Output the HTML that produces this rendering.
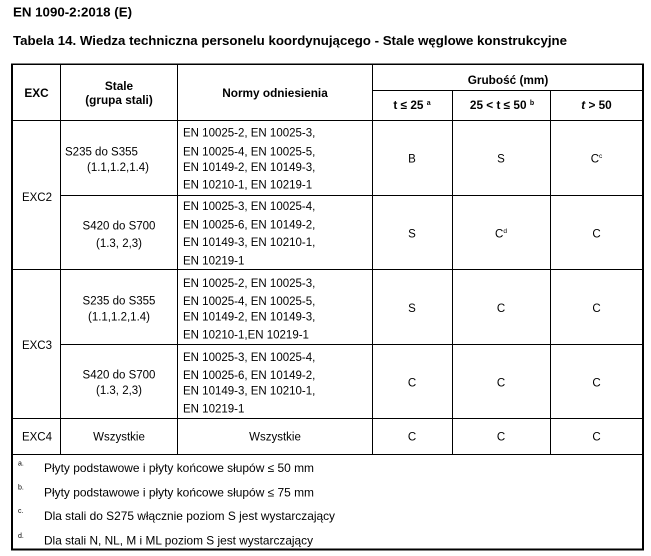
<!DOCTYPE html>
<html>
<head>
<meta charset="utf-8">
<style>
html,body{margin:0;padding:0;background:#fff;}
svg{display:block;}
text{fill:#000;}
</style>
</head>
<body>
<svg width="651" height="556" viewBox="0 0 651 556" xmlns="http://www.w3.org/2000/svg" font-family="'Liberation Sans', Arial, sans-serif">
<rect x="0" y="0" width="651" height="556" fill="#fff"/>

<!-- Titles -->
<text x="13" y="16.5" font-size="13" font-weight="bold" textLength="119" lengthAdjust="spacingAndGlyphs">EN 1090-2:2018 (E)</text>
<text x="13" y="45" font-size="13" font-weight="bold" textLength="554" lengthAdjust="spacingAndGlyphs">Tabela 14. Wiedza techniczna personelu koordynującego - Stale węglowe konstrukcyjne</text>

<!-- Outer borders -->
<g fill="#000">
<rect x="11" y="63.5" width="633" height="1.5"/>
<rect x="11" y="63.5" width="2" height="487"/>
<rect x="642" y="63.5" width="2" height="487"/>
<rect x="11" y="548.5" width="633" height="2"/>

<!-- Vertical inner lines -->
<rect x="60" y="64" width="1" height="390.5"/>
<rect x="177" y="64" width="1" height="390.5"/>
<rect x="372" y="64" width="1" height="390.5"/>
<rect x="452" y="90" width="1" height="364.5"/>
<rect x="550" y="90" width="1" height="364.5"/>

<!-- Horizontal inner lines -->
<rect x="372" y="90" width="271" height="1"/>
<rect x="11" y="120" width="632" height="1"/>
<rect x="60" y="195" width="583" height="1"/>
<rect x="11" y="269" width="632" height="1"/>
<rect x="60" y="344" width="583" height="1"/>
<rect x="11" y="418" width="632" height="1"/>
<rect x="11" y="454" width="632" height="1"/>
</g>

<!-- Header -->
<g font-size="11.8" font-weight="bold" text-anchor="middle">
<text x="36.5" y="97">EXC</text>
<text x="119" y="90">Stale</text>
<text x="119" y="104">(grupa stali)</text>
<text x="275" y="97">Normy odniesienia</text>
<text x="508" y="84">Grubość (mm)</text>
<text x="412" y="109">t ≤ 25 <tspan font-size="7" dy="-4">a</tspan></text>
<text x="502" y="109">25 &lt; t ≤ 50 <tspan font-size="7" dy="-4">b</tspan></text>
<text x="596.5" y="109"><tspan font-style="italic">t</tspan> &gt; 50</text>
</g>

<!-- EXC column -->
<g font-size="11.5" text-anchor="middle">
<text x="37" y="201">EXC2</text>
<text x="37" y="349">EXC3</text>
<text x="37" y="440.3">EXC4</text>
</g>

<!-- Stale column -->
<g font-size="11.5">
<text x="65" y="155.5">S235 do S355</text>
<text x="87" y="171">(1.1,1.2,1.4)</text>
</g>
<g font-size="11.5" text-anchor="middle">
<text x="119" y="229.3">S420 do S700</text>
<text x="119" y="247">(1.3, 2,3)</text>
<text x="119" y="304.3">S235 do S355</text>
<text x="119" y="320.5">(1.1,1.2,1.4)</text>
<text x="119" y="378.3">S420 do S700</text>
<text x="119" y="393.8">(1.3, 2,3)</text>
<text x="119" y="440.3">Wszystkie</text>
<text x="275" y="440.3">Wszystkie</text>
</g>

<!-- Normy column -->
<g font-size="11.5">
<text x="183" y="136.7">EN 10025-2, EN 10025-3,</text>
<text x="183" y="155.7">EN 10025-4, EN 10025-5,</text>
<text x="183" y="171">EN 10149-2, EN 10149-3,</text>
<text x="183" y="188.3">EN 10210-1, EN 10219-1</text>

<text x="183" y="210">EN 10025-3, EN 10025-4,</text>
<text x="183" y="228.5">EN 10025-6, EN 10149-2,</text>
<text x="183" y="246">EN 10149-3, EN 10210-1,</text>
<text x="183" y="264.5">EN 10219-1</text>

<text x="183" y="287">EN 10025-2, EN 10025-3,</text>
<text x="183" y="305">EN 10025-4, EN 10025-5,</text>
<text x="183" y="320.3">EN 10149-2, EN 10149-3,</text>
<text x="183" y="338.3">EN 10210-1,EN 10219-1</text>

<text x="183" y="361">EN 10025-3, EN 10025-4,</text>
<text x="183" y="379">EN 10025-6, EN 10149-2,</text>
<text x="183" y="394.3">EN 10149-3, EN 10210-1,</text>
<text x="183" y="412.3">EN 10219-1</text>
</g>

<!-- Grades -->
<g font-size="11.5" text-anchor="middle">
<text x="412" y="162.6">B</text>
<text x="501" y="162.6">S</text>
<text x="596.5" y="162.6">C<tspan font-size="6.5" dy="-4.5">c</tspan></text>

<text x="412" y="237.3">S</text>
<text x="501" y="237.3">C<tspan font-size="6.5" dy="-4.5">d</tspan></text>
<text x="596.5" y="237.3">C</text>

<text x="412" y="311.8">S</text>
<text x="501" y="311.8">C</text>
<text x="596.5" y="311.8">C</text>

<text x="412" y="386.3">C</text>
<text x="501" y="386.3">C</text>
<text x="596.5" y="386.3">C</text>

<text x="412" y="440.3">C</text>
<text x="501" y="440.3">C</text>
<text x="596.5" y="440.3">C</text>
</g>

<!-- Footnotes -->
<g font-size="7">
<text x="18" y="465.5">a.</text>
<text x="18" y="489.5">b.</text>
<text x="18" y="513">c.</text>
<text x="18" y="538">d.</text>
</g>
<g font-size="11.8">
<text x="44" y="472" textLength="270" lengthAdjust="spacingAndGlyphs">Płyty podstawowe i płyty końcowe słupów ≤ 50 mm</text>
<text x="44" y="496.3" textLength="270" lengthAdjust="spacingAndGlyphs">Płyty podstawowe i płyty końcowe słupów ≤ 75 mm</text>
<text x="44" y="520" textLength="291" lengthAdjust="spacingAndGlyphs">Dla stali do S275 włącznie poziom S jest wystarczający</text>
<text x="44" y="544.3" textLength="269" lengthAdjust="spacingAndGlyphs">Dla stali N, NL, M i ML poziom S jest wystarczający</text>
</g>
</svg>
</body>
</html>
